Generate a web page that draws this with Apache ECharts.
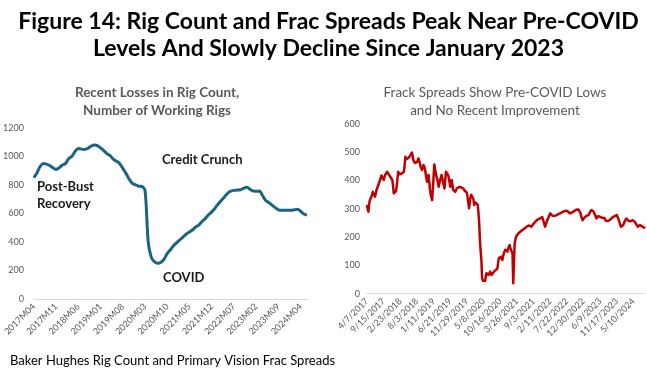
<!DOCTYPE html>
<html><head><meta charset="utf-8">
<script src="https://cdn.jsdelivr.net/npm/echarts@6/dist/echarts.min.js"></script>
<style>html,body{margin:0;padding:0;background:#fff}#c{width:647px;height:370px}</style>
</head><body><div id="c"></div>
<script>
// ---- Left chart: Baker Hughes rig count, monthly 2017M04..2024M06 ----
const rigStart = [2017, 4];
const rigCount = [
 850, 885, 930, 950, 945, 935, 920, 908, 920, 938,
 950, 985, 1000, 1035, 1055, 1050, 1048, 1055, 1070, 1078,
 1075, 1058, 1040, 1018, 1005, 980, 965, 950, 915, 880,
 840, 810, 800, 790, 788, 760, 400, 290, 260, 250,
 258, 280, 320, 345, 375, 395, 415, 435, 455, 470,
 485, 505, 520, 545, 565, 590, 610, 635, 665, 690,
 715, 740, 755, 761, 763, 765, 775, 782, 770, 756,
 755, 756, 725, 690, 675, 658, 640, 625, 622, 622,
 622, 622, 625, 628, 615, 595, 588
];
const rigTicks = [0, 200, 400, 600, 800, 1000, 1200];

// ---- Right chart: Primary Vision frac spreads, weekly from 4/7/2017 ----
const fracStart = '2017-04-07';
const fracSkippedWeeks = ['2023-12-29', '2024-01-05'];
const fracSpreads = [
 314, 300, 290, 318, 331, 335, 342, 349, 360, 367,
 355, 343, 352, 365, 372, 380, 385, 395, 402, 410,
 418, 425, 412, 402, 410, 420, 426, 424, 431, 425,
 422, 420, 415, 410, 406, 402, 380, 355, 352, 349,
 362, 378, 405, 431, 428, 422, 420, 418, 425, 428,
 430, 431, 455, 484, 480, 476, 473, 478, 482, 486,
 490, 494, 499, 488, 473, 468, 462, 458, 455, 465,
 472, 478, 470, 462, 450, 444, 437, 446, 455, 450,
 443, 425, 410, 396, 408, 420, 395, 367, 350, 340,
 331, 372, 414, 457, 440, 428, 414, 405, 392, 378,
 390, 402, 410, 420, 408, 395, 384, 372, 400, 431,
 428, 424, 420, 410, 395, 378, 390, 402, 385, 367,
 364, 362, 360, 366, 372, 375, 376, 377, 378, 378,
 376, 375, 373, 372, 368, 364, 360, 358, 357, 358,
 360, 302, 325, 341, 350, 355, 357, 335, 314, 318,
 322, 325, 320, 314, 285, 249, 190, 150, 119, 54,
 46, 44, 42, 45, 48, 72, 70, 68, 66, 72,
 78, 72, 66, 70, 74, 78, 80, 82, 84, 86,
 88, 90, 125, 128, 130, 131, 125, 119, 132, 143,
 150, 155, 160, 154, 149, 160, 166, 172, 162, 154,
 148, 143, 37, 107, 178, 192, 202, 205, 208, 213,
 215, 218, 220, 223, 225, 226, 228, 230, 231, 233,
 236, 238, 240, 243, 241, 239, 238, 237, 240, 244,
 247, 249, 252, 256, 260, 262, 263, 264, 265, 266,
 268, 270, 271, 272, 255, 245, 237, 245, 252, 260,
 266, 272, 278, 284, 290, 282, 276, 272, 274, 275,
 276, 277, 278, 280, 281, 282, 283, 284, 286, 287,
 288, 290, 291, 292, 293, 295, 296, 292, 288, 286,
 284, 285, 286, 287, 288, 290, 292, 294, 296, 297,
 298, 299, 298, 297, 296, 285, 272, 265, 260, 265,
 268, 272, 274, 275, 276, 277, 278, 283, 288, 292,
 296, 293, 291, 290, 285, 278, 272, 266, 270, 274,
 276, 278, 272, 268, 266, 268, 270, 272, 268, 262,
 258, 255, 256, 257, 258, 260, 262, 265, 268, 270,
 272, 273, 274, 276, 277, 278, 272, 266, 260, 250,
 243, 237, 240, 242, 243, 250, 256, 262, 266, 264,
 261, 258, 256, 255, 256, 258, 259, 260, 262, 258,
 254, 249, 245, 241, 237, 239, 241, 243, 242, 240,
 238, 237, 235, 233, 231
];
const fracTicks = [0, 100, 200, 300, 400, 500, 600];

// build category labels
const rigCats = [];
{ let y = rigStart[0], m = rigStart[1];
  for (let i = 0; i < rigCount.length; i++) {
    rigCats.push(y + 'M' + String(m).padStart(2, '0'));
    m++; if (m > 12) { m = 1; y++; }
  } }
const fracCats = [];
{ let d = new Date(fracStart + 'T12:00:00Z');
  while (fracCats.length < fracSpreads.length) {
    const iso = d.toISOString().slice(0, 10);
    if (!fracSkippedWeeks.includes(iso)) {
      fracCats.push((d.getUTCMonth() + 1) + '/' + d.getUTCDate() + '/' + d.getUTCFullYear());
    }
    d = new Date(d.getTime() + 7 * 86400000);
  } }

const FONT = 'Lato';
const gray = '#595959';
const plain = v => String(v);
const chart = echarts.init(document.getElementById('c'));
chart.setOption({
  animation: false,
  backgroundColor: '#ffffff',
  textStyle: { fontFamily: FONT },
  title: [
    { text: 'Figure 14: Rig Count and Frac Spreads Peak Near Pre-COVID\nLevels And Slowly Decline Since January 2023',
      left: 323.5, top: 3, textAlign: 'center',
      textStyle: { fontFamily: FONT, fontSize: 23, fontWeight: 'bold', color: '#000', lineHeight: 27 } },
    { text: 'Recent Losses in Rig Count,\nNumber of Working Rigs',
      left: 152, top: 79, textAlign: 'center',
      textStyle: { fontFamily: FONT, fontSize: 13.5, fontWeight: 'bold', color: gray, lineHeight: 18 } },
    { text: 'Frack Spreads Show Pre-COVID Lows\nand No Recent Improvement',
      left: 490, top: 79, textAlign: 'center',
      textStyle: { fontFamily: FONT, fontSize: 13.5, fontWeight: 'normal', color: gray, lineHeight: 18 } },
    { text: 'Baker Hughes Rig Count and Primary Vision Frac Spreads',
      left: 5, top: 349,
      textStyle: { fontFamily: FONT, fontSize: 13, fontWeight: 'normal', color: '#000' } }
  ],
  grid: [
    { left: 32, right: 340, top: 127.7, bottom: 71 },
    { left: 367, right: 2, top: 124, bottom: 76.3 }
  ],
  xAxis: [
    { type: 'category', gridIndex: 0, data: rigCats, boundaryGap: false,
      axisLine: { lineStyle: { color: '#d9d9d9', width: 1 } }, axisTick: { show: false },
      axisLabel: { interval: 6, rotate: 45, fontSize: 9, color: gray, margin: 6, fontFamily: FONT } },
    { type: 'category', gridIndex: 1, data: fracCats, boundaryGap: false,
      axisLine: { lineStyle: { color: '#d9d9d9', width: 1 } }, axisTick: { show: false },
      axisLabel: { interval: 22, rotate: 45, fontSize: 9, color: gray, margin: 6, fontFamily: FONT } }
  ],
  yAxis: [
    { type: 'value', gridIndex: 0, min: rigTicks[0], max: rigTicks[rigTicks.length - 1], interval: 200,
      splitLine: { show: false }, axisLine: { show: false }, axisTick: { show: false },
      axisLabel: { fontSize: 9, color: gray, margin: 10, fontFamily: FONT, formatter: plain } },
    { type: 'value', gridIndex: 1, min: fracTicks[0], max: fracTicks[fracTicks.length - 1], interval: 100,
      splitLine: { show: false }, axisLine: { show: false }, axisTick: { show: false },
      axisLabel: { fontSize: 9, color: gray, margin: 7, fontFamily: FONT, formatter: plain } }
  ],
  series: [
    { type: 'line', xAxisIndex: 0, yAxisIndex: 0, data: rigCount, showSymbol: false, smooth: 0.3,
      lineStyle: { color: '#1B6382', width: 3 } },
    { type: 'line', xAxisIndex: 1, yAxisIndex: 1, data: fracSpreads, showSymbol: false,
      lineStyle: { color: '#C00000', width: 2.5, join: 'round' } }
  ],
  graphic: [
    { type: 'text', left: 37, top: 178, style: { text: 'Post-Bust\nRecovery', font: 'bold 13px ' + FONT, fill: '#1a1a1a', lineHeight: 17 } },
    { type: 'text', left: 162, top: 153, style: { text: 'Credit Crunch', font: 'bold 13px ' + FONT, fill: '#1a1a1a' } },
    { type: 'text', left: 163, top: 271, style: { text: 'COVID', font: 'bold 13px ' + FONT, fill: '#1a1a1a' } }
  ]
});
</script></body></html>
